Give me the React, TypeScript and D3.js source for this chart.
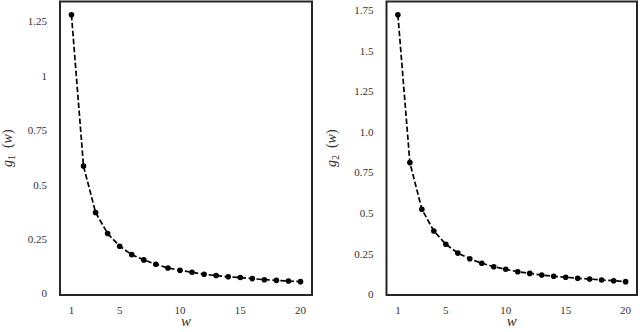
import React, { useEffect, useRef } from 'react';
import * as d3 from 'd3';

// w values on the x axis
const wValues = [1, 2, 3, 4, 5, 6, 7, 8, 9, 10, 11, 12, 13, 14, 15, 16, 17, 18, 19, 20];

const g1Values = [1.281, 0.586, 0.373, 0.276, 0.218, 0.179, 0.155, 0.135, 0.118, 0.107,
  0.098, 0.089, 0.083, 0.077, 0.074, 0.069, 0.064, 0.061, 0.058, 0.055];
const g2Values = [1.721, 0.811, 0.524, 0.390, 0.308, 0.254, 0.219, 0.191, 0.170, 0.154,
  0.139, 0.129, 0.119, 0.111, 0.105, 0.099, 0.094, 0.088, 0.084, 0.078];

const xTicks = [1, 5, 10, 15, 20];
const g1Ticks = [0, 0.25, 0.5, 0.75, 1, 1.25];
const g1TickLabels = ['0', '0.25', '0.5', '0.75', '1', '1.25'];
const g2Ticks = [0, 0.25, 0.5, 0.75, 1, 1.25, 1.5, 1.75];
const g2TickLabels = ['0', '0.25', '0.5', '0.75', '1.0', '1.25', '1.5', '1.75'];

const panels = [
  { sub: '1', values: g1Values, ticks: g1Ticks, labels: g1TickLabels, left: 60, right: 312, labelX: 11.5 },
  { sub: '2', values: g2Values, ticks: g2Ticks, labels: g2TickLabels, left: 386.5, right: 637, labelX: 336 },
];

const App = () => {
  const svgRef = useRef<SVGSVGElement>(null);

  useEffect(() => {
    const width = 640;
    const height = 332;
    const top = 1.5;
    const bottom = 295;
    const tickFont = '"Liberation Serif", "DejaVu Serif", serif';

    // no page margin, the figure fills the window
    document.body.style.margin = '0';

    const svg = d3.select(svgRef.current)
      .attr('width', width)
      .attr('height', height)
      .style('display', 'block')
      .style('background', '#fff');
    svg.selectAll('*').remove();

    panels.forEach((p) => {
      // matplotlib-like 5% margins around the data
      const xPad = (d3.max(wValues)! - d3.min(wValues)!) * 0.05;
      const x = d3.scaleLinear()
        .domain([d3.min(wValues)! - xPad, d3.max(wValues)! + xPad])
        .range([p.left, p.right]);
      const yPad = (d3.max(p.values)! - d3.min(p.values)!) * 0.05;
      const y = d3.scaleLinear()
        .domain([d3.min(p.values)! - yPad, d3.max(p.values)! + yPad])
        .range([bottom, top]);

      const g = svg.append('g');

      // frame
      g.append('rect')
        .attr('x', p.left)
        .attr('y', top)
        .attr('width', p.right - p.left)
        .attr('height', bottom - top)
        .attr('fill', 'none')
        .attr('stroke', '#262626')
        .attr('stroke-width', 2);

      // y tick labels
      g.selectAll('.ytick')
        .data(p.ticks)
        .join('text')
        .attr('class', 'ytick')
        .attr('x', p.left - 13)
        .attr('y', (d) => y(d))
        .attr('dy', '0.35em')
        .attr('text-anchor', 'end')
        .style('font-family', tickFont)
        .style('font-size', '11px')
        .style('fill', '#333')
        .text((d, i) => p.labels[i]);

      // x tick labels
      g.selectAll('.xtick')
        .data(xTicks)
        .join('text')
        .attr('class', 'xtick')
        .attr('x', (d) => x(d))
        .attr('y', bottom + 18.5)
        .attr('text-anchor', 'middle')
        .style('font-family', tickFont)
        .style('font-size', '11px')
        .style('fill', '#333')
        .text((d) => d);

      // dashed line
      const line = d3.line<number>()
        .x((d, i) => x(wValues[i]))
        .y((d) => y(d));
      g.append('path')
        .datum(p.values)
        .attr('d', line)
        .attr('fill', 'none')
        .attr('stroke', '#000')
        .attr('stroke-width', 1.7)
        .attr('stroke-dasharray', '5.5 2.5');

      // markers
      g.selectAll('.dot')
        .data(p.values)
        .join('circle')
        .attr('class', 'dot')
        .attr('cx', (d, i) => x(wValues[i]))
        .attr('cy', (d) => y(d))
        .attr('r', 2.8)
        .attr('fill', '#000');

      // x label
      g.append('text')
        .attr('x', (p.left + p.right) / 2)
        .attr('y', 326)
        .attr('text-anchor', 'middle')
        .style('font-family', tickFont)
        .style('font-style', 'italic')
        .style('font-size', '15px')
        .style('fill', '#333')
        .text('w');

      // y label
      const yl = g.append('text')
        .attr('transform', `translate(${p.labelX},${(top + bottom) / 2}) rotate(-90)`)
        .attr('text-anchor', 'middle')
        .style('font-family', tickFont)
        .style('font-size', '14px')
        .style('fill', '#333');
      yl.append('tspan').style('font-style', 'italic').text('g');
      yl.append('tspan').attr('dy', 3).style('font-size', '10px').text(p.sub);
      yl.append('tspan').attr('dy', -3).text('\u2002(');
      yl.append('tspan').style('font-style', 'italic').text('w');
      yl.append('tspan').text(')');
    });
  }, []);

  return <svg ref={svgRef}></svg>;
};

export default App;
